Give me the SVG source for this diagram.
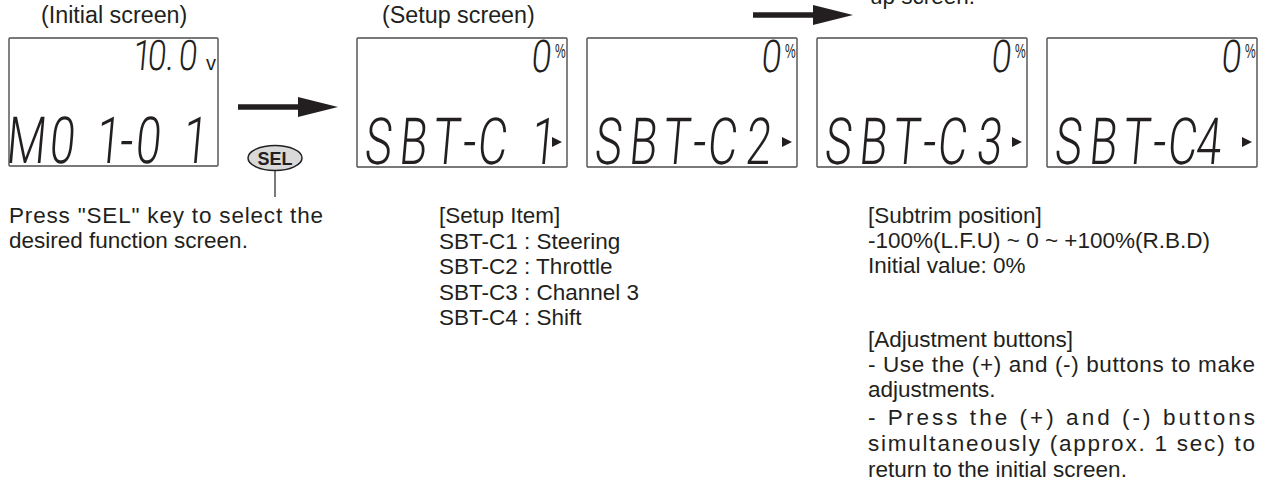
<svg xmlns="http://www.w3.org/2000/svg" width="1265" height="486" viewBox="0 0 1265 486">
<style>
  .txt{font-family:"Liberation Sans",Arial,sans-serif;font-size:22.5px;fill:#231f20}
  .hd{font-family:"Liberation Sans",Arial,sans-serif;font-size:23.3px;fill:#231f20}
  .lcd{font-family:Roboto,Lato,Inter,"DejaVu Sans",sans-serif;font-weight:300;fill:#231f20;text-anchor:middle}
  .pct{font-family:"Liberation Sans",Arial,sans-serif;font-size:20px;fill:#231f20}
  .box{fill:#ffffff;stroke:#4d4d4d;stroke-width:1.4}
  .conn{stroke:#231f20;fill:none}
  .head{fill:#231f20}
</style>
<defs>
  <polygon id="tri" points="0,0 10,5 0,10" fill="#231f20"/>
</defs>
<rect width="1265" height="486" fill="#ffffff"/>

<!-- headings -->
<text class="hd" x="41" y="23">(Initial screen)</text>
<text class="hd" x="382" y="23">(Setup screen)</text>
<text class="txt" x="870" y="4">up screen.</text>

<!-- Initial screen -->
<g id="initial-screen">
  <rect class="box" x="9" y="38" width="209" height="128" rx="1"/>
  <text class="lcd" font-size="42" transform="translate(3,70) skewX(-5) scale(0.8,1)" x="172.5 191.2 207.5 230">10.0</text>
  <text class="pct" x="206" y="70" font-size="17">v</text>
  <text class="lcd" font-size="65" transform="translate(0,163) skewX(-5) scale(0.7,1)" x="35.7 87.1 152.9 178.6 210 277.1">M01-01</text>
</g>

<!-- Setup screens -->
<g id="setup-c1" transform="translate(357,0)">
  <rect class="box" x="0" y="38" width="210" height="129" rx="1"/>
  <text class="lcd" font-size="45" transform="translate(183.5,72) skewX(-5) scale(0.8,1)" x="0">0</text>
  <text class="pct" transform="translate(198,58) scale(0.6,1)" x="0" y="0">%</text>
  <text class="lcd" font-size="65" transform="translate(0,164) skewX(-5) scale(0.7,1)" x="28.6 78.6 125.7 158.6 191.4 264.3">SBT-C1</text>
  <use href="#tri" x="195" y="137"/>
</g>
<g id="setup-c2" transform="translate(587,0)">
  <rect class="box" x="0" y="38" width="210" height="129" rx="1"/>
  <text class="lcd" font-size="45" transform="translate(183.5,72) skewX(-5) scale(0.8,1)" x="0">0</text>
  <text class="pct" transform="translate(198,58) scale(0.6,1)" x="0" y="0">%</text>
  <text class="lcd" font-size="65" transform="translate(0,164) skewX(-5) scale(0.7,1)" x="28.6 78.6 125.7 158.6 191.4 242.9">SBT-C2</text>
  <use href="#tri" x="195" y="137"/>
</g>
<g id="setup-c3" transform="translate(817,0)">
  <rect class="box" x="0" y="38" width="210" height="129" rx="1"/>
  <text class="lcd" font-size="45" transform="translate(183.5,72) skewX(-5) scale(0.8,1)" x="0">0</text>
  <text class="pct" transform="translate(198,58) scale(0.6,1)" x="0" y="0">%</text>
  <text class="lcd" font-size="65" transform="translate(0,164) skewX(-5) scale(0.7,1)" x="28.6 78.6 125.7 158.6 191.4 244.3">SBT-C3</text>
  <use href="#tri" x="195" y="137"/>
</g>
<g id="setup-c4" transform="translate(1047,0)">
  <rect class="box" x="0" y="38" width="210" height="129" rx="1"/>
  <text class="lcd" font-size="45" transform="translate(183.5,72) skewX(-5) scale(0.8,1)" x="0">0</text>
  <text class="pct" transform="translate(198,58) scale(0.6,1)" x="0" y="0">%</text>
  <text class="lcd" font-size="65" transform="translate(0,164) skewX(-5) scale(0.7,1)" x="28.6 78.6 125.7 158.6 191.4 228.6">SBT-C4</text>
  <use href="#tri" x="195" y="137"/>
</g>

<!-- SEL key -->
<g id="sel-key">
  <ellipse cx="275" cy="158" rx="27" ry="12.5" fill="#d9d9d9" stroke="#231f20" stroke-width="1.5"/>
  <text x="275" y="164.5" text-anchor="middle" font-family="Liberation Sans,Arial,sans-serif" font-weight="bold" font-size="18" fill="#231f20">SEL</text>
</g>

<!-- connectors -->
<g id="connectors">
  <line class="conn" x1="238" y1="107" x2="300" y2="107" stroke-width="5.5"/>
  <polygon class="head" points="298,97 338,107 298,117"/>
  <line class="conn" x1="753" y1="15" x2="815" y2="15" stroke-width="5.5"/>
  <polygon class="head" points="813,5 853,15 813,25"/>
  <line class="conn" x1="275" y1="171" x2="275" y2="197" stroke-width="1.2"/>
</g>

<!-- descriptions -->
<g id="sel-note">
  <text class="txt" x="9" y="223" textLength="314" lengthAdjust="spacing">Press "SEL" key to select the</text>
  <text class="txt" x="9" y="247.5">desired function screen.</text>
</g>
<g id="setup-items">
  <text class="txt" x="439" y="223">[Setup Item]</text>
  <text class="txt" x="439" y="248.5">SBT-C1 : Steering</text>
  <text class="txt" x="439" y="274">SBT-C2 : Throttle</text>
  <text class="txt" x="439" y="299.5">SBT-C3 : Channel 3</text>
  <text class="txt" x="439" y="325">SBT-C4 : Shift</text>
</g>
<g id="subtrim-notes">
  <text class="txt" x="868" y="223">[Subtrim position]</text>
  <text class="txt" x="868" y="248">-100%(L.F.U) ~ 0 ~ +100%(R.B.D)</text>
  <text class="txt" x="868" y="273">Initial value: 0%</text>
  <text class="txt" x="868" y="347">[Adjustment buttons]</text>
  <text class="txt" x="868" y="372" textLength="387" lengthAdjust="spacing">- Use the (+) and (-) buttons to make</text>
  <text class="txt" x="868" y="397">adjustments.</text>
  <text class="txt" x="868" y="425" textLength="387" lengthAdjust="spacing">- Press the (+) and (-) buttons</text>
  <text class="txt" x="868" y="451" textLength="387" lengthAdjust="spacing">simultaneously (approx. 1 sec) to</text>
  <text class="txt" x="868" y="477">return to the initial screen.</text>
</g>
</svg>
